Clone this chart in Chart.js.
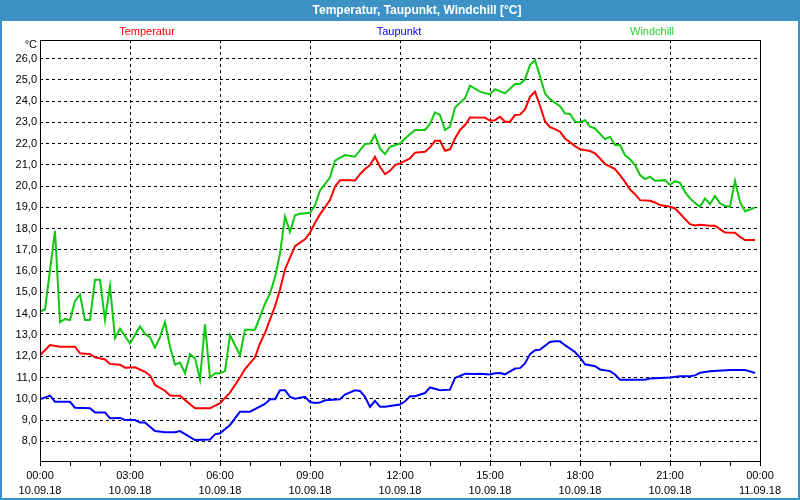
<!DOCTYPE html>
<html>
<head>
<meta charset="utf-8">
<script src="https://cdn.jsdelivr.net/npm/chart.js@4/dist/chart.umd.min.js"></script>
<style>
  html, body { margin: 0; padding: 0; background: #fff; }
  #c { display: block; }
</style>
</head>
<body>
<canvas id="c" width="800" height="500"></canvas>
<script>
// ---- data (minutes after midnight 10.09.18, value in °C) ----
const titleText = 'Temperatur, Taupunkt, Windchill [°C]';
const seriesLabels = ['Temperatur', 'Taupunkt', 'Windchill'];
const unitLabel = '°C';

const tempMinutes = [0,20,40,70,80,100,110,130,140,160,170,190,210,220,230,250,260,280,290,310,340,360,380,400,410,430,440,450,460,470,480,490,500,510,520,530,540,550,560,580,590,600,620,630,640,650,660,670,680,690,700,710,720,740,750,770,780,790,800,810,820,830,840,850,860,890,900,910,920,930,940,950,960,970,980,990,1000,1010,1020,1030,1040,1050,1060,1070,1080,1100,1110,1120,1130,1150,1160,1170,1180,1190,1200,1220,1230,1240,1260,1270,1280,1290,1300,1310,1320,1340,1350,1360,1370,1390,1400,1410,1430];
const tempValues = [12.05,12.53,12.45,12.45,12.14,12.1,11.95,11.85,11.64,11.6,11.46,11.48,11.27,11.1,10.65,10.38,10.15,10.14,9.94,9.55,9.55,9.79,10.29,11.0,11.4,11.95,12.6,13.1,13.72,14.35,15.14,16.08,16.64,17.18,17.34,17.5,17.81,18.28,18.67,19.34,19.97,20.28,20.28,20.26,20.56,20.8,20.99,21.38,20.91,20.56,20.72,20.99,21.07,21.3,21.57,21.61,21.82,22.13,22.13,21.66,21.73,22.24,22.64,22.87,23.23,23.22,23.07,23.1,23.26,23.03,23.03,23.34,23.36,23.61,24.2,24.44,23.78,23.05,22.77,22.68,22.56,22.24,22.06,21.88,21.73,21.65,21.54,21.3,21.04,20.8,20.52,20.2,19.84,19.62,19.34,19.31,19.23,19.11,19.03,18.95,18.71,18.45,18.21,18.15,18.18,18.14,18.14,17.98,17.82,17.81,17.61,17.46,17.46];

const dewMinutes = [0,20,30,60,70,100,110,130,140,160,170,190,200,210,230,250,270,280,310,340,350,360,380,400,420,450,460,470,480,490,500,510,530,540,550,560,570,600,610,630,640,650,660,670,680,690,710,720,730,740,750,770,780,800,820,830,840,850,870,880,900,910,920,930,950,960,970,980,990,1000,1020,1030,1040,1050,1070,1080,1090,1110,1120,1140,1150,1160,1210,1220,1260,1280,1300,1310,1320,1340,1380,1410,1420,1430];
const dewValues = [9.98,10.15,9.86,9.86,9.58,9.55,9.36,9.36,9.08,9.1,9.0,9.0,8.88,8.88,8.48,8.43,8.43,8.48,8.06,8.08,8.33,8.38,8.77,9.39,9.39,9.76,9.98,9.98,10.4,10.4,10.09,10.0,10.09,9.85,9.8,9.82,9.93,9.98,10.2,10.4,10.37,10.09,9.62,9.9,9.62,9.62,9.7,9.73,9.88,10.12,10.12,10.27,10.53,10.4,10.43,10.98,11.07,11.18,11.16,11.18,11.14,11.2,11.21,11.15,11.42,11.44,11.66,12.1,12.28,12.31,12.67,12.71,12.7,12.52,12.2,11.94,11.62,11.53,11.38,11.3,11.14,10.9,10.9,10.95,11.0,11.06,11.06,11.1,11.22,11.29,11.35,11.35,11.29,11.21];

const windMinutes = [0,10,30,40,50,60,70,80,90,100,110,120,130,140,150,160,180,200,210,220,230,240,250,260,270,280,290,300,310,320,330,340,350,360,370,380,400,410,430,440,450,460,470,480,490,500,510,520,540,550,560,580,590,610,630,650,660,670,680,690,700,720,730,750,770,780,790,800,810,820,830,850,860,880,900,910,930,950,960,970,980,990,1000,1010,1020,1030,1040,1050,1060,1070,1080,1090,1100,1110,1130,1140,1150,1160,1170,1180,1190,1200,1210,1220,1230,1250,1260,1270,1280,1290,1300,1310,1320,1330,1340,1350,1360,1370,1380,1390,1400,1410,1420,1430];
const windValues = [14.1,14.2,17.9,13.6,13.75,13.7,14.6,14.9,13.7,13.7,15.6,15.6,13.7,15.3,12.85,13.3,12.6,13.4,13.05,12.9,12.4,12.9,13.6,12.45,11.6,11.7,11.2,12.1,11.9,10.9,13.5,11.0,11.2,11.2,11.3,13.0,12.05,13.25,13.25,13.85,14.47,14.94,15.73,16.83,18.56,17.85,18.63,18.7,18.75,19.1,19.8,20.4,21.2,21.46,21.38,21.98,22.0,22.4,21.77,21.5,21.85,22.0,22.24,22.64,22.64,22.92,23.47,23.35,22.64,22.8,23.7,24.13,24.72,24.44,24.31,24.56,24.36,24.8,24.8,25.02,25.69,25.93,25.15,24.36,24.08,23.92,23.76,23.42,23.39,23.03,23.01,23.1,22.79,22.71,22.21,22.32,21.93,21.93,21.46,21.26,20.99,20.52,20.33,20.44,20.25,20.28,20.05,20.23,20.15,19.73,19.42,19.21,19.03,19.42,19.15,19.54,19.19,19.06,19.03,20.25,19.26,18.82,18.9,19.0];

// axis tick labels
const yTickValues = [8,9,10,11,12,13,14,15,16,17,18,19,20,21,22,23,24,25,26];
const xLabelMinutes = [0,180,360,540,720,900,1080,1260,1440];
const xTimeLabels = ['00:00','03:00','06:00','09:00','12:00','15:00','18:00','21:00','00:00'];
const xDateLabels = ['10.09.18','10.09.18','10.09.18','10.09.18','10.09.18','10.09.18','10.09.18','10.09.18','11.09.18'];

// ---- styling ----
const seriesColors = ['rgb(255,0,0)', 'rgb(0,0,255)', 'rgb(16,200,16)'];
const legendColors = ['rgb(255,0,0)', 'rgb(0,0,230)', 'rgb(40,210,40)'];
const FONT = '"Liberation Sans", Arial, sans-serif';

function toPoints(xs, ys) { return xs.map((x, i) => ({ x: x, y: ys[i] })); }

const decorPlugin = {
  id: 'decor',
  beforeDraw(chart) {
    const ctx = chart.ctx, w = chart.width, h = chart.height;
    ctx.save();
    ctx.fillStyle = '#ffffff';
    ctx.fillRect(0, 0, w, h);
    ctx.fillStyle = '#3c92c4';
    ctx.fillRect(0, 0, w, 21);
    ctx.fillRect(0, 0, 2, h);
    ctx.fillRect(w - 2, 0, 2, h);
    ctx.fillRect(0, h - 2, w, 2);
    ctx.fillStyle = '#ffffff';
    ctx.font = 'bold 12px ' + FONT;
    ctx.textAlign = 'center';
    ctx.textBaseline = 'middle';
    ctx.fillText(titleText, 417, 11);
    ctx.font = '11px ' + FONT;
    const legendX = [147, 399, 652];
    chart.data.datasets.forEach((ds, i) => {
      ctx.fillStyle = legendColors[i];
      ctx.fillText(ds.label, legendX[i], 31.5);
    });
    ctx.fillStyle = '#000';
    ctx.textAlign = 'right';
    ctx.fillText(unitLabel, 37, 45);
    ctx.restore();
  },
  afterDraw(chart) {
    const a = chart.chartArea, ctx = chart.ctx;
    ctx.save();
    ctx.strokeStyle = '#000';
    ctx.lineWidth = 1;
    ctx.setLineDash([]);
    ctx.strokeRect(Math.round(a.left) + 0.5, Math.round(a.top) + 0.5,
                   Math.round(a.right - a.left), Math.round(a.bottom - a.top));
    ctx.restore();
  }
};

new Chart(document.getElementById('c'), {
  type: 'line',
  data: {
    datasets: [
      { label: seriesLabels[0], data: toPoints(tempMinutes, tempValues), borderColor: seriesColors[0] },
      { label: seriesLabels[1], data: toPoints(dewMinutes, dewValues), borderColor: seriesColors[1] },
      { label: seriesLabels[2], data: toPoints(windMinutes, windValues), borderColor: seriesColors[2] }
    ]
  },
  options: {
    responsive: false,
    animation: false,
    devicePixelRatio: 1,
    layout: { padding: { top: 40, right: 40, bottom: 0, left: 0 } },
    elements: {
      point: { radius: 0 },
      line: { borderWidth: 2, tension: 0, fill: false }
    },
    plugins: { legend: { display: false }, title: { display: false }, tooltip: { enabled: false } },
    scales: {
      x: {
        type: 'linear',
        min: 0, max: 1440,
        afterFit(s) { s.height = 39; },
        ticks: {
          stepSize: 60,
          autoSkip: false,
          maxRotation: 0,
          padding: 2,
          color: '#000',
          font: { family: FONT, size: 11, lineHeight: 1.4 },
          callback(v) {
            const i = xLabelMinutes.indexOf(v);
            return i >= 0 ? [xTimeLabels[i], xDateLabels[i]] : '';
          }
        },
        grid: {
          color(ctx) {
            const v = ctx.tick ? ctx.tick.value : -1;
            return (v % 180 === 0 && v > 0 && v < 1440) ? '#000' : 'rgba(0,0,0,0)';
          },
          tickColor: '#000',
          tickLength: 5,
          drawTicks: true
        },
        border: { display: false, dash: [3, 3] }
      },
      y: {
        type: 'linear',
        min: 7.074, max: 26.87,
        afterFit(s) { s.width = 40; },
        afterBuildTicks(s) { s.ticks = yTickValues.map(v => ({ value: v })); },
        ticks: {
          padding: 3,
          color: '#000',
          font: { family: FONT, size: 11 },
          callback(v) { return v.toFixed(1).replace('.', ','); }
        },
        grid: { color: '#000', drawTicks: false },
        border: { display: false, dash: [3, 3] }
      }
    }
  },
  plugins: [decorPlugin]
});
</script>
</body>
</html>
